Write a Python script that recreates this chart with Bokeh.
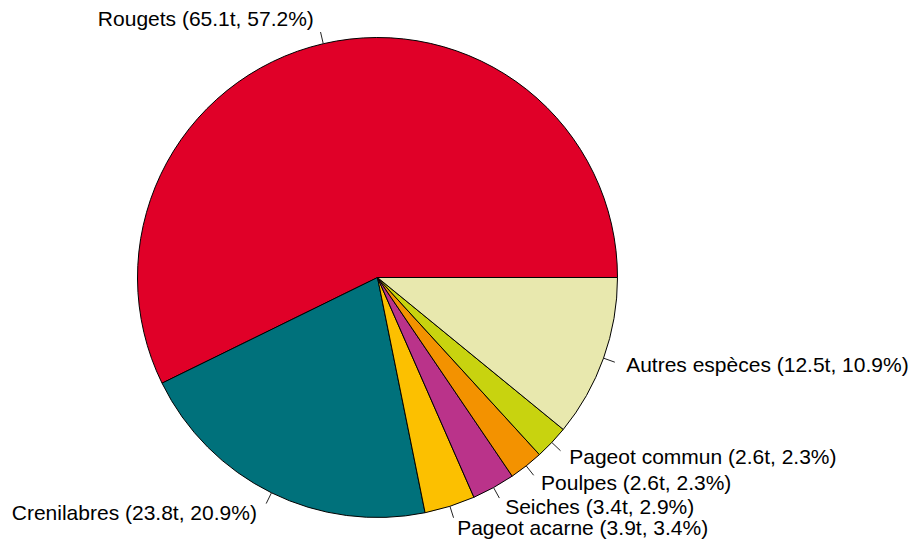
import math
from bokeh.plotting import figure
from bokeh.models import ColumnDataSource
from bokeh.core.properties import value
from bokeh.embed import file_html
from bokeh.resources import INLINE

species = ["Rougets", "Crenilabres", "Pageot acarne", "Seiches", "Poulpes", "Pageot commun", "Autres espèces"]
tonnes = [65.1, 23.8, 3.9, 3.4, 2.6, 2.6, 12.5]
percents = [57.2, 20.9, 3.4, 2.9, 2.3, 2.3, 10.9]
colors = ["#E00028", "#00717B", "#FCC000", "#BA338A", "#F39200", "#C8D30F", "#E8E8AE"]

W, H = 916, 542
R_PX = 240.0
cx_px, cy_px = 377.0, 277.0  # pie centre in plot pixels (from top-left)

p = figure(width=W, height=H, output_backend="svg", toolbar_location=None,
           x_range=(-cx_px / R_PX, (W - cx_px) / R_PX),
           y_range=(-(H - cy_px) / R_PX, cy_px / R_PX),
           min_border=0, outline_line_color=None)
p.axis.visible = False
p.grid.visible = False

total = sum(percents)
starts, ends, mids = [], [], []
acc = 0.0
for v in percents:
    a0 = 2 * math.pi * acc / total
    acc += v
    a1 = 2 * math.pi * acc / total
    starts.append(a0)
    ends.append(a1)
    mids.append((a0 + a1) / 2)

src = ColumnDataSource(dict(start=starts, end=ends, color=colors))
p.wedge(x=0, y=0, radius=1.0, start_angle="start", end_angle="end",
        direction="anticlock", fill_color="color", line_color="black",
        line_width=1, source=src)

labels = [f"{s} ({t}t, {q}%)" for s, t, q in zip(species, tonnes, percents)]
x0 = [math.cos(m) for m in mids]
y0 = [math.sin(m) for m in mids]
x1 = [1.05 * math.cos(m) for m in mids]
y1 = [1.05 * math.sin(m) for m in mids]
p.segment(x0=x0, y0=y0, x1=x1, y1=y1, line_color="#222222", line_width=1)

tx = [1.1 * math.cos(m) for m in mids]
ty = [1.1 * math.sin(m) for m in mids]
align = ["left" if math.cos(m) > 0 else "right" for m in mids]
xoff = [0 if math.cos(m) > 0 else -4 for m in mids]
tsrc = ColumnDataSource(dict(x=tx, y=ty, text=labels, align=align, xoff=xoff))
p.text(x="x", y="y", text="text", text_align="align", x_offset="xoff", y_offset=-2,
       text_baseline="middle", text_font=value("Liberation Sans"),
       text_font_size="21px", text_color="black", source=tsrc)

open("out.html", "w").write(file_html(p, INLINE))
